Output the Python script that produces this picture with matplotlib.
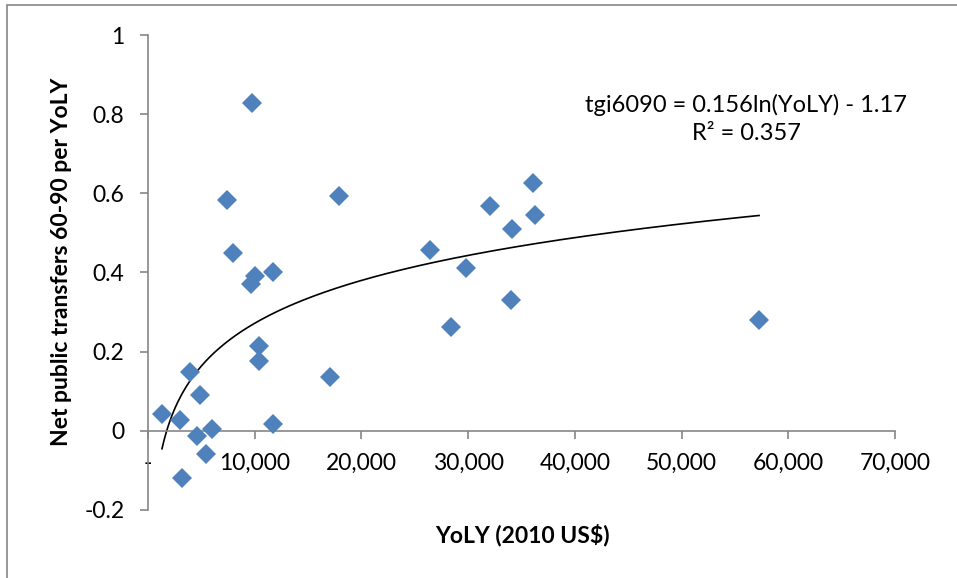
import matplotlib
matplotlib.use("Agg")
import matplotlib.pyplot as plt
import matplotlib.patches as patches
import numpy as np

plt.rcParams["font.family"] = ["Lato", "DejaVu Sans"]

# data
yoly = [9750, 7370, 17870, 8000, 10060, 9650, 11740, 10370, 10370, 17060,
        3940, 4870, 1310, 3000, 6000, 11740, 4560, 5440, 3190,
        26430, 29800, 28370, 32050, 34110, 34050, 36110, 36300, 57260]
tgi6090 = [0.827, 0.582, 0.593, 0.449, 0.392, 0.371, 0.402, 0.215, 0.177, 0.136,
           0.148, 0.091, 0.042, 0.028, 0.005, 0.017, -0.014, -0.059, -0.118,
           0.457, 0.411, 0.263, 0.569, 0.510, 0.331, 0.625, 0.544, 0.280]

# log trendline (printed coefficients are rounded, -1.165 sits closer to the drawn curve)
slope = 0.156
intercept = -1.165

xticks = [0, 10000, 20000, 30000, 40000, 50000, 60000, 70000]
xticklabels = ["-", "10,000", "20,000", "30,000", "40,000", "50,000", "60,000", "70,000"]
yticks = [-0.2, 0, 0.2, 0.4, 0.6, 0.8, 1.0]
yticklabels = ["-0.2", "0", "0.2", "0.4", "0.6", "0.8", "1"]

W, H = 957, 578
fig = plt.figure(figsize=(W / 100, H / 100), dpi=100)
ax = fig.add_axes([148 / W, 1 - 510 / H, (895 - 148) / W, (510 - 35) / H])

grey = "#868686"

ax.plot(yoly, tgi6090, linestyle="none", marker="D", markersize=10.2,
        color="#4F81BD", markeredgewidth=0, zorder=3)

xs = np.linspace(min(yoly), max(yoly), 300)
ax.plot(xs, slope * np.log(xs) + intercept, color="black", lw=1.2, zorder=2)

ax.set_xlim(0, 70000)
ax.set_ylim(-0.2, 1.0)
ax.set_xticks(xticks)
ax.set_xticklabels(xticklabels)
ax.set_yticks(yticks)
ax.set_yticklabels(yticklabels)

for s in ["top", "right"]:
    ax.spines[s].set_visible(False)
ax.spines["bottom"].set_position(("data", 0))
for s in ["left", "bottom"]:
    ax.spines[s].set_color(grey)
    ax.spines[s].set_linewidth(1.2)

ax.tick_params(axis="both", direction="out", length=6, width=1.2, color=grey,
               labelsize=16.5, labelcolor="black")
ax.tick_params(axis="y", pad=11)
ax.tick_params(axis="x", pad=10)

fig.text(62 / W, 1 - 262 / H, "Net public transfers 60-90 per YoLY", rotation=90,
         ha="center", va="center", fontsize=16.5, fontweight="bold")
fig.text(522 / W, 1 - 535 / H, "YoLY (2010 US$)", ha="center", va="center",
         fontsize=16.5, fontweight="bold")

fig.text(746 / W, 1 - 119 / H, "tgi6090 = 0.156ln(YoLY) - 1.17\nR\u00b2 = 0.357",
         ha="center", va="center", multialignment="center", fontsize=17,
         linespacing=1.45)

border = patches.Rectangle((7 / W, -0.1), 1.2, 1.1 - 5 / H, transform=fig.transFigure,
                           fill=False, edgecolor=grey, lw=1.2)
fig.patches.append(border)

fig.savefig("out.png", dpi=100)
